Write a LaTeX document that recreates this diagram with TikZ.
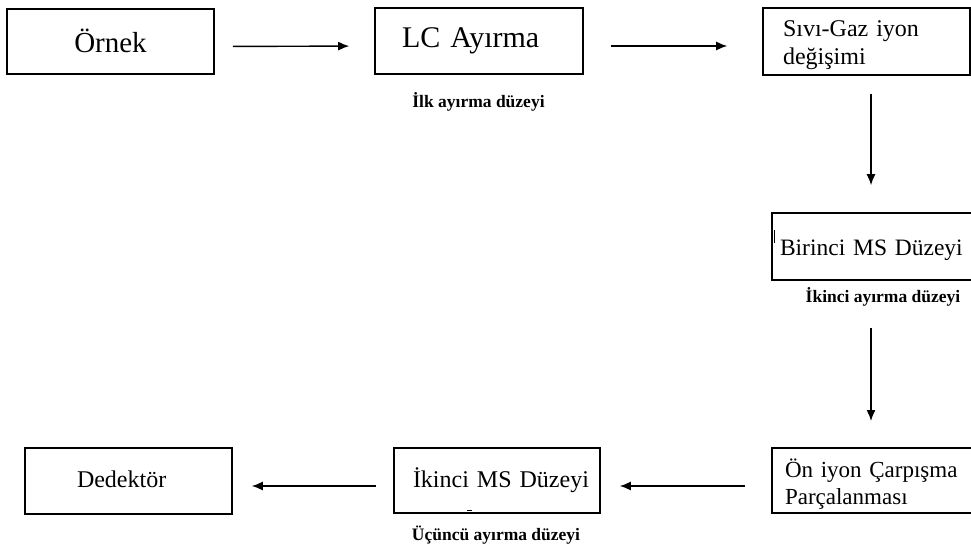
\documentclass[tikz,border=0pt]{standalone}
\usepackage{fontspec}
\setmainfont{Liberation Serif}
\usepackage{tikz}
\usetikzlibrary{arrows.meta,positioning,calc}

\begin{document}
\begin{tikzpicture}[x=1pt, y=-1pt,
        block/.style={rectangle, draw, line width=1.6pt, align=left, inner ysep=0pt},
        level/.style={font=\bfseries\fontsize{17.5}{20}\selectfont, anchor=base},
        arrow/.style={-{Latex[length=11pt,width=9pt]}, line width=1.4pt}]
        \clip (0,0) rectangle (971,553);

        % Top row
        \node[block, align=center, minimum width=207pt, minimum height=65pt, text height=25pt, text depth=2pt, font=\fontsize{29}{34}\selectfont] (orn) at (110.5, 41.5) {Örnek};
        \node[block, text width=154pt, inner xsep=27pt, minimum height=66pt, text height=19pt, text depth=5pt, font=\fontsize{30}{34}\selectfont] (lc) at (479, 41) {LC Ayırma};
        \node[block, text width=167pt, inner xsep=20pt, minimum height=67pt, text height=10pt, text depth=19pt, font=\fontsize{24}{28}\selectfont] (sivi) at (866.5, 41.5) {Sıvı-Gaz iyon\\değişimi};
        \node[level] (lvl1) at (478.5, 108) {İlk ayırma düzeyi};

        \draw[arrow, shorten <=18pt, shorten >=25pt] ([yshift=-5pt]orn.east) -- ([yshift=-5pt]lc.west);
        \draw[arrow, shorten <=27pt, shorten >=35pt] ([yshift=-5pt]lc.east) -- ([yshift=-5pt]lc.east -| sivi.west);

        % Right column
        \node[block, text width=190pt, inner xsep=8pt, minimum height=67pt, text height=22pt, text depth=5pt, font=\fontsize{23.5}{28}\selectfont] (ms1) at (875, 246.5) {\mbox{Birinci MS Düzeyi}};
        \node[level] (lvl2) at (883, 302) {İkinci ayırma düzeyi};
        \draw[line width=0.8pt] ([xshift=3pt, yshift=16pt]ms1.west) -- ++(0,13);

        \draw[arrow, shorten <=18pt, shorten >=27pt] ([xshift=4.5pt]sivi.south) -- ([xshift=4.5pt]sivi.south |- ms1.north);
        \draw[arrow, shorten <=47pt, shorten >=27pt] ([xshift=-4pt]ms1.south) -- ([xshift=-4pt]ms1.south |- 0,448);

        % Bottom row
        \node[block, text width=178pt, inner xsep=13pt, minimum height=65pt, text height=10pt, text depth=17pt, font=\fontsize{23}{27}\selectfont] (cid) at (874, 480.5) {Ön iyon Çarpışma\\Parçalanması};
        \node[block, text width=168pt, inner xsep=19pt, minimum height=65pt, text height=18pt, text depth=5pt, font=\fontsize{24}{28}\selectfont] (ms2) at (497, 480.5) {\mbox{İkinci MS Düzeyi}};
        \node[block, text width=103pt, inner xsep=52pt, minimum height=66pt, text height=17pt, text depth=5pt, font=\fontsize{24}{28}\selectfont] (det) at (128.5, 481) {Dedektör};
        \node[level] (lvl3) at (496, 540) {Üçüncü ayırma düzeyi};
        \draw[line width=0.8pt] ([xshift=-30pt, yshift=3pt]ms2.south) -- ++(5,0);

        \draw[arrow, shorten <=26pt, shorten >=19pt] ([yshift=-5.5pt]cid.west) -- ([yshift=-5.5pt]ms2.east);
        \draw[arrow, shorten <=17pt, shorten >=19pt] ([yshift=-5.5pt]ms2.west) -- ([yshift=-5.5pt]ms2.west -| det.east);
\end{tikzpicture}
\end{document}
